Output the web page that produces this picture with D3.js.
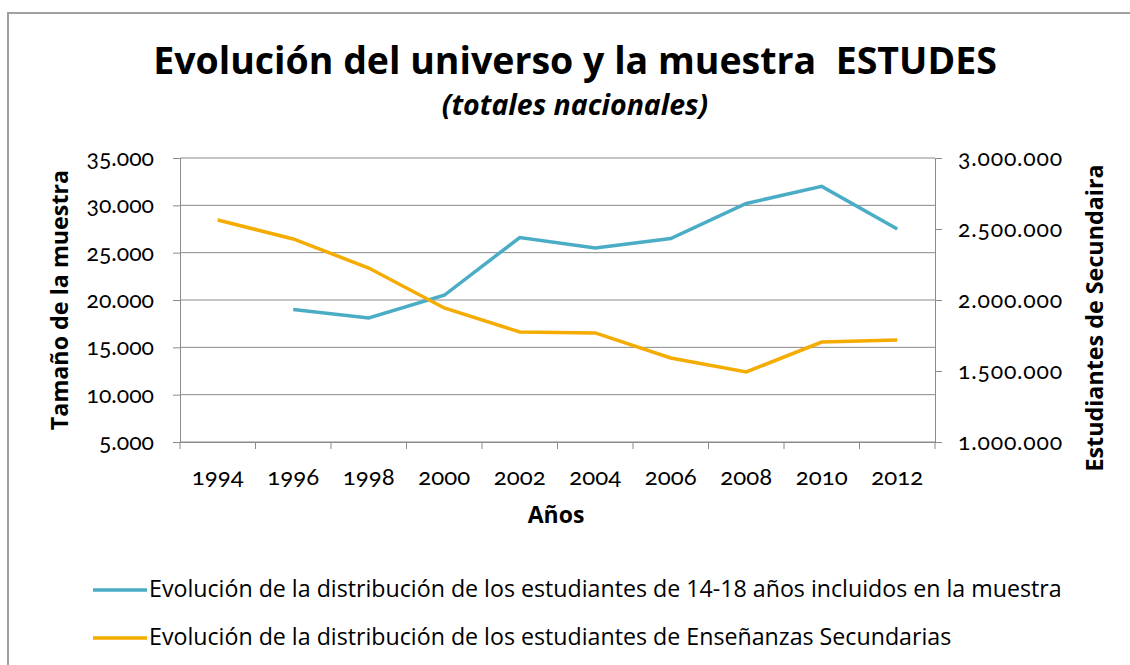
<!DOCTYPE html>
<html>
<head>
<meta charset="utf-8">
<script src="https://cdn.jsdelivr.net/npm/d3@7"></script>
<style>
  body { margin: 0; background: #fff; }
  svg text { font-family: "Open Sans", Lato, sans-serif; fill: #000; }
  .tick text { font-family: Lato, sans-serif; font-variant-numeric: oldstyle-nums; }
</style>
</head>
<body>
<svg class="chart" width="1130" height="665"></svg>
<script>
// data
let years = ["1994", "1996", "1998", "2000", "2002", "2004", "2006", "2008", "2010", "2012"];
let muestra = [null, 19000, 18100, 20500, 26600, 25500, 26500, 30200, 32000, 27500];
let secundaria = [2563000, 2430000, 2225000, 1944000, 1775000, 1768000, 1592000, 1493000, 1704000, 1718000];
let leftTicks = [5000, 10000, 15000, 20000, 25000, 30000, 35000];
let rightTicks = [1000000, 1500000, 2000000, 2500000, 3000000];
let legendLabels = [
	"Evolución de la distribución de los estudiantes de 14-18 años incluidos en la muestra",
	"Evolución de la distribución de los estudiantes de Enseñanzas Secundarias"
];
let colors = ["#4bacc6", "#f4ac00"];

let svg = d3.select(".chart"),
	margin = {top: 158, right: 195, bottom: 223, left: 180},
	width = svg.attr("width") - margin.left - margin.right,
	height = svg.attr("height") - margin.top - margin.bottom,
	g = svg.append("g").attr("transform", "translate(" + margin.left + "," + margin.top + ")");

//frame
svg.append("path")
	.attr("d", "M8,665V13H1130")
	.attr("fill", "none")
	.attr("stroke", "#a0a0a0")
	.attr("stroke-width", 2);

//scales
let x = d3.scaleBand().domain(years).range([0, width]);
let yLeft = d3.scaleLinear().domain([5000, 35000]).range([height, 0]);
let yRight = d3.scaleLinear().domain([1000000, 3000000]).range([height, 0]);

let fmt = function(d){ return d3.format(",")(d).replace(/,/g, "."); };

//gridlines
g.append("g")
	.selectAll("line")
	.data(leftTicks)
	.enter()
	.append("line")
	.attr("x1", 0)
	.attr("x2", width)
	.attr("y1", function(d){ return yLeft(d); })
	.attr("y2", function(d){ return yLeft(d); })
	.attr("stroke", "#8a8a8a")
	.attr("stroke-width", 1);

//left axis
let leftAxis = g.append("g")
	.call(d3.axisLeft(yLeft).tickValues(leftTicks).tickFormat(fmt).tickSize(7).tickPadding(19));
leftAxis.selectAll("text").style("font-size", "23px");

//right axis
let rightAxis = g.append("g")
	.attr("transform", "translate(" + width + ",0)")
	.call(d3.axisRight(yRight).tickValues(rightTicks).tickFormat(fmt).tickSize(7).tickPadding(16));
rightAxis.selectAll("text").style("font-size", "23px").style("letter-spacing", "0.8px");

//x axis with ticks on band edges
let xAxis = g.append("g")
	.attr("transform", "translate(0," + height + ")")
	.call(d3.axisBottom(x).tickSize(0).tickPadding(26));
xAxis.selectAll("text").style("font-size", "24px");
xAxis.selectAll(".edge")
	.data(d3.range(years.length + 1))
	.enter()
	.append("line")
	.attr("class", "edge")
	.attr("x1", function(i){ return i * x.step(); })
	.attr("x2", function(i){ return i * x.step(); })
	.attr("y1", 0)
	.attr("y2", 7);

svg.selectAll(".domain, .tick line, .edge").attr("stroke", "#8a8a8a");

//lines
let lineLeft = d3.line()
	.defined(function(d){ return d !== null; })
	.x(function(d, i){ return x(years[i]) + x.bandwidth() / 2; })
	.y(function(d){ return yLeft(d); });
let lineRight = d3.line()
	.x(function(d, i){ return x(years[i]) + x.bandwidth() / 2; })
	.y(function(d){ return yRight(d); });

g.append("path")
	.datum(muestra)
	.attr("d", lineLeft)
	.attr("fill", "none")
	.attr("stroke", colors[0])
	.attr("stroke-width", 3.5);

g.append("path")
	.datum(secundaria)
	.attr("d", lineRight)
	.attr("fill", "none")
	.attr("stroke", colors[1])
	.attr("stroke-width", 3.5);

//titles
svg.append("text")
	.attr("x", 575)
	.attr("y", 74)
	.attr("text-anchor", "middle")
	.attr("xml:space", "preserve")
	.style("font-size", "37.5px")
	.style("font-weight", "bold")
	.text("Evolución del universo y la muestra  ESTUDES");

svg.append("text")
	.attr("x", 575)
	.attr("y", 115)
	.attr("text-anchor", "middle")
	.style("font-size", "28.5px")
	.style("font-weight", "bold")
	.style("font-style", "italic")
	.text("(totales nacionales)");

svg.append("text")
	.attr("x", 556)
	.attr("y", 523)
	.attr("text-anchor", "middle")
	.style("font-size", "23px")
	.style("font-weight", "bold")
	.text("Años");

svg.append("text")
	.attr("transform", "translate(68,300) rotate(-90)")
	.attr("text-anchor", "middle")
	.style("font-size", "23.3px")
	.style("font-weight", "bold")
	.text("Tamaño de la muestra");

svg.append("text")
	.attr("transform", "translate(1103,318) rotate(-90)")
	.attr("text-anchor", "middle")
	.style("font-size", "23.3px")
	.style("font-weight", "bold")
	.text("Estudiantes de Secundaira");

//legend
let legend = svg.append("g").attr("transform", "translate(93,590)");
legendLabels.forEach(function(label, i){
	let row = legend.append("g").attr("transform", "translate(0," + (i * 48) + ")");
	row.append("line")
		.attr("x1", 0)
		.attr("x2", 54)
		.attr("stroke", colors[i])
		.attr("stroke-width", 3.5);
	row.append("text")
		.attr("x", 56)
		.attr("y", 7)
		.style("font-size", "23.2px")
		.text(label);
});
</script>
</body>
</html>
